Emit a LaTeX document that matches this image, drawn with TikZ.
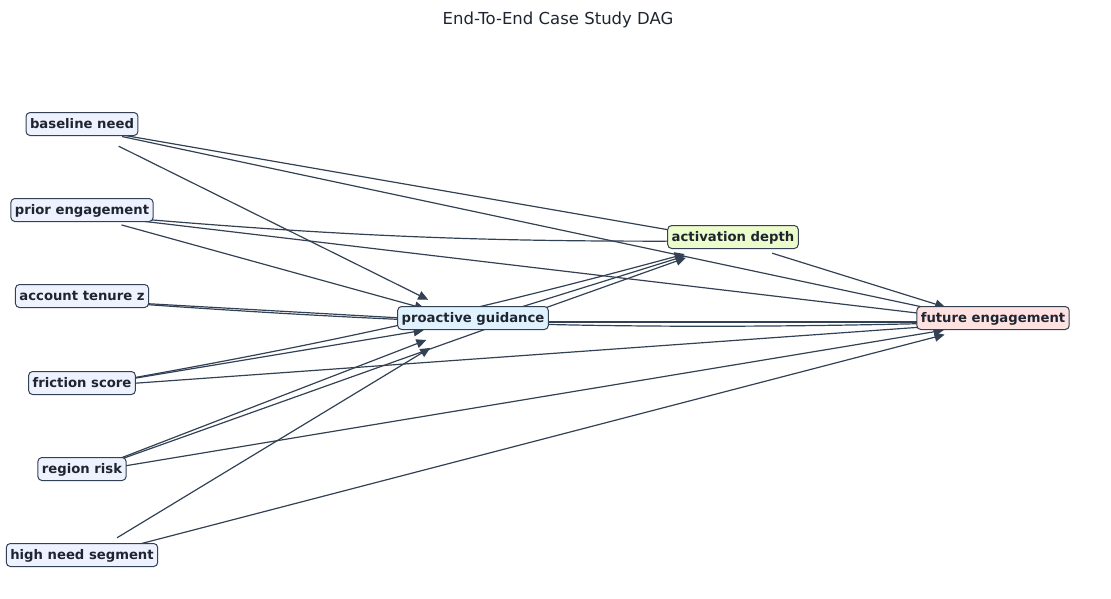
\documentclass[tikz,border=0pt]{standalone}
\usepackage{fontspec}
\setmainfont{DejaVu Sans}
\usetikzlibrary{arrows.meta}
\definecolor{edgec}{HTML}{334155}
\definecolor{boxb}{HTML}{334155}
\definecolor{txtc}{HTML}{1F2530}
\definecolor{fsrc}{HTML}{EEF2FF}
\definecolor{ftrt}{HTML}{E0F2FE}
\definecolor{fmed}{HTML}{ECFCCB}
\definecolor{fout}{HTML}{FEE2E2}
\begin{document}
\begin{tikzpicture}[x=1pt,y=-1pt,
  lbl/.style={draw=boxb, line width=1pt, rounded corners=4pt,
    font=\fontsize{13.2}{15}\selectfont\bfseries, text=txtc,
    inner xsep=4pt, inner ysep=4.5pt, text height=11pt, text depth=3pt},
  dagarrow/.style={draw=edgec, line width=1.2pt, shorten <=41pt, shorten >=50pt,
    -{Triangle[length=10pt,width=9pt]}}]
\useasboundingbox (0,0) rectangle (1111,598);
\node[font=\fontsize{16.5}{19}\selectfont, text=txtc] (title) at (558,19.5) {End-To-End Case Study DAG};
% edge anchors
\coordinate (bn) at (82,128);
\coordinate (pe) at (82,214);
\coordinate (at) at (82,300);
\coordinate (fs) at (82,387);
\coordinate (rr) at (82,473);
\coordinate (hn) at (82,559);
\coordinate (pg) at (473,322);
\coordinate (ad) at (733,241);
\coordinate (fe) at (993,322);
% edges
\draw[dagarrow] (bn) -- (pg);
\draw[dagarrow] (bn) -- (ad);
\draw[dagarrow] (bn) -- (fe);
\draw[dagarrow] (pe) -- (pg);
\draw[dagarrow] (pe) to[bend right=2.5] (ad);
\draw[dagarrow] (pe) -- (fe);
\draw[dagarrow] (at) -- (pg);
\draw[dagarrow] (at) to[bend right=2.7] (fe);
\draw[dagarrow] (fs) -- (pg);
\draw[dagarrow] (fs) to[bend right=2.5] (ad);
\draw[dagarrow] (fs) -- (fe);
\draw[dagarrow] (rr) -- (pg);
\draw[dagarrow] (rr) -- (ad);
\draw[dagarrow] (rr) -- (fe);
\draw[dagarrow] (hn) -- (pg);
\draw[dagarrow] (hn) -- (fe);
\draw[dagarrow] (pg) -- (ad);
\draw[dagarrow] (pg) -- (fe);
\draw[dagarrow] (ad) -- (fe);
% labels
\node[lbl, fill=fsrc] (bnL) at (82,124) {baseline need};
\node[lbl, fill=fsrc] (peL) at (82,210) {prior engagement};
\node[lbl, fill=fsrc] (atL) at (82,296) {account tenure z};
\node[lbl, fill=fsrc] (fsL) at (82,383) {friction score};
\node[lbl, fill=fsrc] (rrL) at (82,469) {region risk};
\node[lbl, fill=fsrc] (hnL) at (82,555) {high need segment};
\node[lbl, fill=ftrt] (pgL) at (473,318) {proactive guidance};
\node[lbl, fill=fmed] (adL) at (733,237) {activation depth};
\node[lbl, fill=fout] (feL) at (993,318) {future engagement};
\end{tikzpicture}
\end{document}
